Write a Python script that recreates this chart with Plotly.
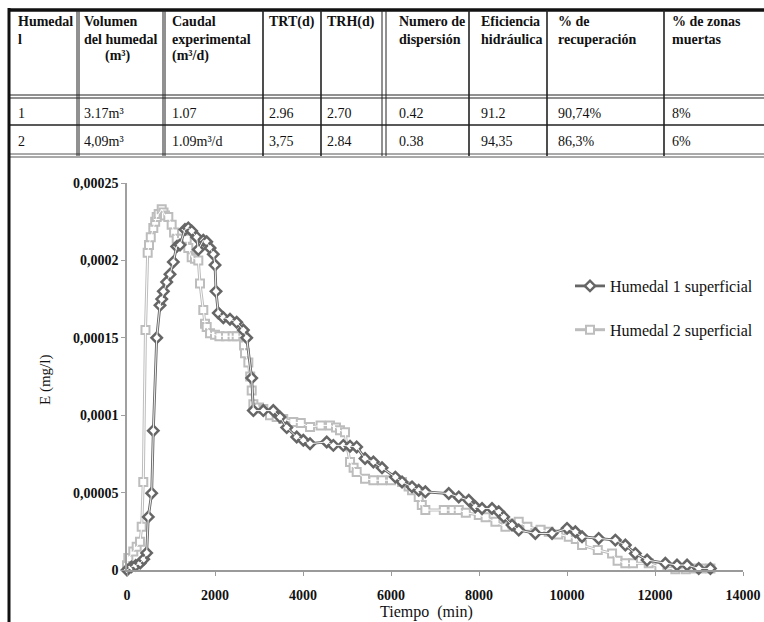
import plotly.graph_objects as go

# ---------------- data ----------------
h1_t = [0, 100, 200, 300, 380, 447, 484, 561, 598, 675, 750, 789, 826, 902, 977, 1053, 1130, 1205,
        1318, 1393, 1470, 1584, 1621, 1734, 1811, 1887, 1962, 2000, 2023, 2075, 2190, 2341, 2493,
        2644, 2720, 2834, 2872, 3098, 3325, 3477, 3630, 3857, 4007, 4160, 4539, 4690, 4917, 5069,
        5220, 5410, 5600, 5796, 6099, 6251, 6478, 6630, 6781, 7312, 7540, 7767, 7918, 8069, 8296,
        8448, 8562, 8751, 8903, 9281, 9660, 10001, 10190, 10342, 10720, 11099, 11326, 11553, 11820,
        12235, 12500, 12729, 12994, 13260]
h1_e = [0, 0.000002, 0.000003, 0.0000045, 0.000007, 0.000011, 0.0000343, 0.0000496, 0.00009, 0.00015,
        0.000171, 0.000175, 0.00018, 0.000186, 0.000191, 0.000199, 0.000209, 0.00021,
        0.00022, 0.000221, 0.000219, 0.000215, 0.000207, 0.000213, 0.000212, 0.000208, 0.000204,
        0.000197, 0.00018, 0.000166, 0.000163, 0.000162, 0.00016,
        0.000155, 0.00015, 0.000124, 0.000103, 0.000103, 0.000103, 0.0000988, 0.000092, 0.0000859,
        0.0000838, 0.0000816, 0.0000827, 0.0000805, 0.0000805, 0.00008,
        0.0000795, 0.000072, 0.0000698, 0.000066, 0.00006, 0.0000569, 0.0000537, 0.0000515,
        0.0000505, 0.0000494, 0.0000472, 0.000045, 0.0000408, 0.0000397, 0.0000397,
        0.0000376, 0.0000343, 0.000029, 0.0000258, 0.0000236, 0.0000236, 0.0000269, 0.0000247,
        0.0000215, 0.0000204, 0.0000193, 0.0000161, 0.0000107, 0.0000064,
        0.0000043, 0.0000032, 0.0000032, 0.000001, 0.000001]

h2_t = [0, 30, 143, 220, 295, 334, 370, 420, 470, 500, 540, 598, 640, 675, 720, 789, 830, 864, 939,
        1015, 1070, 1130, 1250, 1357, 1393, 1470, 1545, 1621, 1659, 1734, 1773, 1811, 1887, 2000,
        2100, 2250, 2400, 2493, 2644, 2660, 2682, 2758, 2800, 2834, 2872, 3000, 3098, 3250, 3401,
        3550, 3780, 3950, 4160, 4400, 4614, 4750, 4841, 4955, 5000, 5069, 5150, 5220, 5410, 5600,
        5796, 6000, 6251, 6400, 6478, 6630, 6700, 6781, 7200, 7400, 7540, 7700, 7995, 8150, 8373,
        8600, 8750, 8903, 9100, 9400, 9585, 9800, 10040, 10200, 10342, 10700, 11024, 11150, 11326,
        11500, 11857, 12100, 12462, 12700, 12900, 13050, 13260]
h2_e = [0.000003, 0.0000077, 0.000012, 0.000015, 0.0000182, 0.000028, 0.0000569, 0.000155, 0.000205,
        0.00021, 0.000215, 0.000221, 0.000225, 0.000228, 0.00023, 0.000233, 0.000231, 0.000229,
        0.000228, 0.000223, 0.000218, 0.000214, 0.000214, 0.000214, 0.000208, 0.000202, 0.000201,
        0.0002, 0.000185, 0.000168, 0.000159, 0.000157, 0.000153, 0.000152,
        0.000151, 0.000151, 0.000151, 0.000151, 0.000151, 0.000145, 0.00014, 0.000134, 0.000125,
        0.000116, 0.000107, 0.000105, 0.000104, 0.0001, 0.0000988,
        0.0000975, 0.0000956, 0.000095, 0.0000923, 0.0000934, 0.0000934, 0.000092, 0.0000902,
        0.000089, 0.00008, 0.0000698, 0.000066, 0.0000633, 0.000059, 0.000058,
        0.000058, 0.000058, 0.0000569, 0.000054, 0.0000515, 0.0000472, 0.000042, 0.0000387,
        0.0000387, 0.0000387, 0.0000387, 0.000037, 0.0000355, 0.000034, 0.0000311,
        0.0000279, 0.00003, 0.0000311, 0.000028, 0.000026, 0.0000247, 0.000023, 0.0000215,
        0.00002, 0.0000161, 0.000013, 0.0000107, 0.000006, 0.0000043,
        0.0000043, 0.0000043, 0.000002, 0.0000005, 0.0000005, 0.000001, 0.000001, 0.000001]

x_ticks = [0, 2000, 4000, 6000, 8000, 10000, 12000, 14000]
x_ticktext = ["0", "2000", "4000", "6000", "8000", "10000", "12000", "14000"]
y_ticks = [0, 0.00005, 0.0001, 0.00015, 0.0002, 0.00025]
y_ticktext = ["0", "0,00005", "0,0001", "0,00015", "0,0002", "0,00025"]

series_names = ["Humedal 1 superficial", "Humedal 2 superficial"]

table_header = [
    ["Humedal", "l"],
    ["Volumen", "del humedal", "      (m³)"],
    ["Caudal", "experimental", "(m³/d)"],
    ["TRT(d)"],
    ["TRH(d)"],
    ["Numero de", "dispersión"],
    ["Eficiencia", "hidráulica"],
    ["% de", "recuperación"],
    ["% de zonas", "muertas"],
]
table_rows = [
    ["1", "3.17m³", "1.07", "2.96", "2.70", "0.42", "91.2", "90,74%", "8%"],
    ["2", "4,09m³", "1.09m³/d", "3,75", "2.84", "0.38", "94,35", "86,3%", "6%"],
]

# ---------------- figure ----------------
W, H = 764, 622
SERIF = "Liberation Serif, Times New Roman, serif"
DARK = "#666666"
LIGHT = "#bdbdbd"

def px(x):
    return x / W

def py(y):
    return 1 - y / H

fig = go.Figure()

fig.add_trace(go.Scatter(
    x=h2_t, y=h2_e, name=series_names[1], mode="lines+markers",
    line=dict(color=LIGHT, width=3),
    marker=dict(symbol="square", size=8, color="white", line=dict(color=LIGHT, width=2)),
    legendgroup="h2", legendrank=2, cliponaxis=False))
fig.add_trace(go.Scatter(
    x=h2_t, y=h2_e, mode="lines", line=dict(color="white", width=1),
    showlegend=False, hoverinfo="skip", legendgroup="h2", cliponaxis=False))
fig.add_trace(go.Scatter(
    x=h1_t, y=h1_e, name=series_names[0], mode="lines+markers",
    line=dict(color=DARK, width=2.8),
    marker=dict(symbol="diamond", size=8, color="white", line=dict(color=DARK, width=2.5)),
    legendgroup="h1", legendrank=1, cliponaxis=False))
fig.add_trace(go.Scatter(
    x=h1_t, y=h1_e, mode="lines", line=dict(color="white", width=0.9),
    showlegend=False, hoverinfo="skip", legendgroup="h1", cliponaxis=False))

shapes = []
annotations = []

def hline(y, x0, x1, w=1.2, c="#222222"):
    shapes.append(dict(type="line", xref="paper", yref="paper", x0=px(x0), x1=px(x1),
                       y0=py(y), y1=py(y), line=dict(color=c, width=w)))

def vline(x, y0, y1, w=1.2, c="#222222"):
    shapes.append(dict(type="line", xref="paper", yref="paper", x0=px(x), x1=px(x),
                       y0=py(y0), y1=py(y1), line=dict(color=c, width=w)))

# table frame
hline(10, 8, 764, w=3.5, c="#111111")
hline(95, 8, 764, w=1)
hline(98, 8, 764, w=1)
hline(125, 8, 764, w=1.3)
hline(154, 8, 764, w=1, c="#555555")
hline(157, 8, 764, w=1, c="#555555")
vline(9, 8, 622, w=3, c="#111111")
for xd in [77, 79, 163, 165, 382, 386]:
    vline(xd, 10, 156, w=1)
for xs in [263, 321, 469, 547, 664]:
    vline(xs, 10, 156, w=1.6)

col_x = [16, 82, 170, 267, 325, 397, 479, 556, 670]
head_y = [22, 39, 56]
for cx, lines in zip(col_x, table_header):
    for i, t in enumerate(lines):
        annotations.append(dict(xref="paper", yref="paper", x=px(cx), y=py(head_y[i]),
                                text="<b>%s</b>" % t, showarrow=False, xanchor="left",
                                yanchor="middle", font=dict(family=SERIF, size=14, color="#111111")))
row_y = [114, 142]
for ry, row in zip(row_y, table_rows):
    for cx, t in zip(col_x, row):
        annotations.append(dict(xref="paper", yref="paper", x=px(cx), y=py(ry), text=t,
                                showarrow=False, xanchor="left", yanchor="middle",
                                font=dict(family=SERIF, size=14, color="#111111")))

annotations.append(dict(xref="paper", yref="paper", x=px(426), y=py(612), text="Tiempo  (min)",
                        showarrow=False, xanchor="center", yanchor="middle",
                        font=dict(family=SERIF, size=16, color="#111111")))
annotations.append(dict(xref="paper", yref="paper", x=px(45), y=py(380), text="E (mg/l)",
                        showarrow=False, xanchor="center", yanchor="middle", textangle=-90,
                        font=dict(family=SERIF, size=15, color="#111111")))

fig.update_layout(
    width=W, height=H, autosize=False,
    margin=dict(l=0, r=0, t=0, b=0, pad=0),
    paper_bgcolor="white", plot_bgcolor="white",
    shapes=shapes, annotations=annotations,
    showlegend=True,
    legend=dict(x=px(570), y=py(269), xanchor="left", yanchor="top",
                font=dict(family=SERIF, size=16, color="#111111"),
                tracegroupgap=20, traceorder="grouped", bgcolor="rgba(0,0,0,0)"),
    xaxis=dict(domain=[px(127), px(743)], range=[0, 14000], tickvals=x_ticks, ticktext=x_ticktext,
               automargin=False,
               showline=True, linecolor="#9a9a9a", linewidth=2, ticks="outside", ticklen=4,
               tickcolor="#9a9a9a", showgrid=False, zeroline=False, ticklabelstandoff=7,
               tickfont=dict(family=SERIF, size=14, color="#111111", weight="bold")),
    yaxis=dict(domain=[1 - 570 / H, 1 - 183 / H], range=[0, 0.00025], tickvals=y_ticks,
               ticktext=y_ticktext, automargin=False,
               showline=True, linecolor="#a0a0a0", linewidth=1.5,
               ticks="outside", ticklen=4, tickcolor="#a0a0a0", showgrid=False, zeroline=False,
               tickfont=dict(family=SERIF, size=14, color="#111111", weight="bold")),
)

post = "document.body.style.margin='0';document.body.style.overflow='hidden';"
fig.write_html("out.html", config={"displayModeBar": False}, post_script=post)
